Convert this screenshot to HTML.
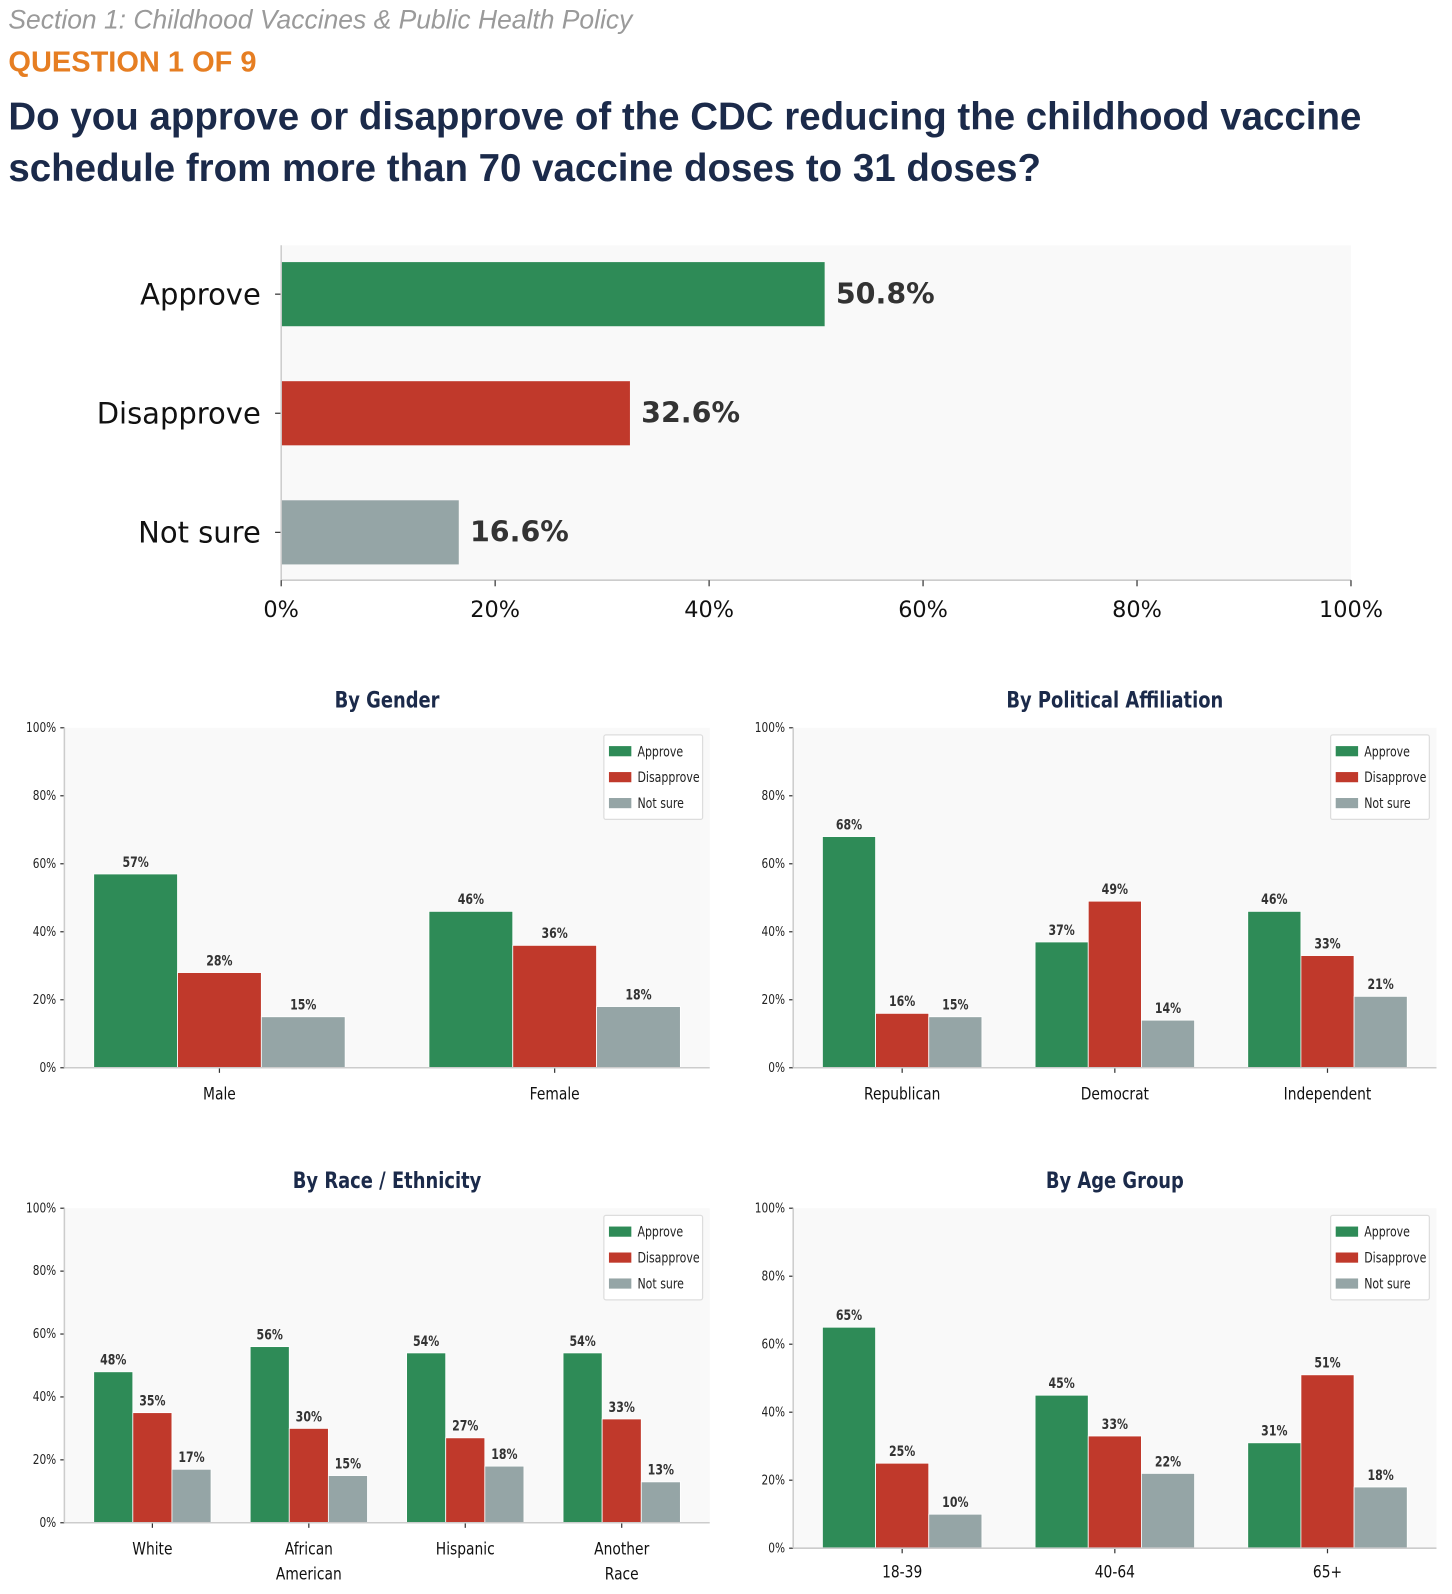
<!DOCTYPE html>
<html><head><meta charset="utf-8"><style>
html,body{margin:0;padding:0;background:#fff;}
svg{display:block;}
</style></head><body>
<svg id="root" width="1452" height="1594" viewBox="0 0 1426 1566" xmlns="http://www.w3.org/2000/svg">
<text x="8" y="28" font-family="Liberation Sans, sans-serif" font-style="italic" font-size="26" fill="#9a9a9a">Section 1: Childhood Vaccines &amp; Public Health Policy</text>
<text x="8" y="70" font-family="Liberation Sans, sans-serif" font-weight="bold" font-size="28.5" fill="#e67e22">QUESTION 1 OF 9</text>
<text x="8" y="127" font-family="Liberation Sans, sans-serif" font-weight="bold" font-size="37.8" fill="#1b2a4a">Do you approve or disapprove of the CDC reducing the childhood vaccine</text>
<text x="8" y="178" font-family="Liberation Sans, sans-serif" font-weight="bold" font-size="37.8" fill="#1b2a4a">schedule from more than 70 vaccine doses to 31 doses?</text>
<g id="main"></g>
<g id="panels"></g>
</svg>
<script>
const NS='http://www.w3.org/2000/svg';
const colors=['#2e8b57','#c0392b','#95a5a6'];
const seriesNames=['Approve','Disapprove','Not sure'];
const mainCategories=['Approve','Disapprove','Not sure'];
const mainValues=[50.8,32.6,16.6];
const mainTicks=[0,20,40,60,80,100];

const genderCats=[['Male'],['Female']];
const genderApprove=[57,46];
const genderDisapprove=[28,36];
const genderNotSure=[15,18];

const politicalCats=[['Republican'],['Democrat'],['Independent']];
const politicalApprove=[68,37,46];
const politicalDisapprove=[16,49,33];
const politicalNotSure=[15,14,21];

const raceCats=[['White'],['African','American'],['Hispanic'],['Another','Race']];
const raceApprove=[48,56,54,54];
const raceDisapprove=[35,30,27,33];
const raceNotSure=[17,15,18,13];

const ageCats=[['18-39'],['40-64'],['65+']];
const ageApprove=[65,45,31];
const ageDisapprove=[25,33,51];
const ageNotSure=[10,22,18];

const panelTicks=[0,20,40,60,80,100];

function mk(tag,attrs,parent,txt){const e=document.createElementNS(NS,tag);for(const k in attrs)e.setAttribute(k,attrs[k]);if(txt!==undefined)e.textContent=txt;parent.appendChild(e);return e;}
function ctext(x,y,anchor,size,weight,fill,parent,txt){
  return mk('text',{x:0,y:0,transform:'translate('+x+' '+y+') scale(0.8 1)','text-anchor':anchor,'font-family':'DejaVu Sans, sans-serif','font-size':size,'font-weight':weight,fill:fill},parent,txt);
}

// main chart
(function(){
  const g=document.getElementById('main');
  const L=276,R=1327,T=241,B=570;
  const x=v=>L+(R-L)*v/100;
  const bg=mk('rect',{x:L,y:T,width:R-L,height:B-T,fill:'#f9f9f9'},g);
  
  
  const band=117, first=289, bh=63;
  mainCategories.forEach((c,i)=>{
    const cy=first+band*i;
    const r=mk('rect',{x:L,y:cy-bh/2,width:x(mainValues[i])-L,height:bh,fill:colors[i]},g);
    
    
    const t=mk('text',{x:x(mainValues[i])+11,y:cy+9,'font-family':'DejaVu Sans, sans-serif','font-weight':'bold','font-size':28,fill:'#333'},g,mainValues[i].toFixed(1)+'%');
    
    
    const l=mk('text',{x:256,y:cy+10,'text-anchor':'end','font-family':'DejaVu Sans, sans-serif','font-size':28.5,fill:'#111'},g,c);
    
    
    mk('line',{x1:L-6,x2:L,y1:cy,y2:cy,stroke:'#333','stroke-width':1.2},g);
  });
  mk('line',{x1:L,x2:L,y1:T,y2:B,stroke:'#ccc','stroke-width':1.5},g);
  mk('line',{x1:L,x2:R,y1:B,y2:B,stroke:'#ccc','stroke-width':1.5},g);
  mainTicks.forEach(v=>{
    mk('line',{x1:x(v),x2:x(v),y1:B,y2:B+6,stroke:'#333','stroke-width':1.2},g);
    const t=mk('text',{x:x(v),y:606,'text-anchor':'middle','font-family':'DejaVu Sans, sans-serif','font-size':22,fill:'#111'},g,v+'%');
    
    
  });
})();

function panel(name,title,cats,series,L,R,T,B,titleY,labelY){
  const root=document.getElementById('panels');
  const g=mk('g',{},root);
  
  
  const n=cats.length;
  const pad=0.375+0.05*(n-1+0.75);
  const sp=(R-L)/(n-1+2*pad);
  const cx=i=>L+sp*(pad+i);
  const y=v=>B-(B-T)*v/100;
  mk('rect',{x:L,y:T,width:R-L,height:B-T,fill:'#f9f9f9'},g);
  const tt=ctext((L+R)/2,titleY,'middle',22,'bold','#1b2a4a',g,title);
  
  
  panelTicks.forEach(v=>{
    mk('line',{x1:L-4,x2:L,y1:y(v),y2:y(v),stroke:'#333','stroke-width':1.2},g);
    const t=ctext(L-8,y(v)+4,'end',13,'normal','#222',g,v+'%');
    
    
  });
  const bw=sp*0.25;
  cats.forEach((c,i)=>{
    series.forEach((s,j)=>{
      const x0=cx(i)+(j-1.5)*bw;
      const r=mk('rect',{x:x0,y:y(s[i]),width:bw,height:B-y(s[i]),fill:colors[j],stroke:'#fff','stroke-width':0.8},g);
      
      
      const t=ctext(x0+bw/2,y(s[i])-7,'middle',13.5,'bold','#333',g,s[i]+'%');
      
      
    });
    mk('line',{x1:cx(i),x2:cx(i),y1:B,y2:B+5,stroke:'#333','stroke-width':1.2},g);
    c.forEach((line,k)=>{
      const t=ctext(cx(i),labelY+k*25,'middle',17,'normal','#111',g,line);
      
      
    });
  });
  mk('line',{x1:L,x2:L,y1:T,y2:B,stroke:'#ccc','stroke-width':1.5},g);
  mk('line',{x1:L,x2:R,y1:B,y2:B,stroke:'#ccc','stroke-width':1.5},g);
  const lx=R-104, ly=T+7;
  const lg=mk('g',{},g);
  
  
  mk('rect',{x:lx,y:ly,width:97,height:83,fill:'#fff',stroke:'#ddd','stroke-width':1.2,rx:2},lg);
  seriesNames.forEach((s,j)=>{
    mk('rect',{x:lx+5,y:ly+11+j*25.5,width:22,height:10,fill:colors[j]},lg);
    const t=mk('text',{x:0,y:0,transform:'translate('+(lx+33)+' '+(ly+21+j*25.5)+') scale(0.8 1)','font-family':'DejaVu Sans, sans-serif','font-size':13.5,fill:'#222'},lg,s);
    
    
  });
}
panel('gender','By Gender',genderCats,[genderApprove,genderDisapprove,genderNotSure],63,697,715,1049,695,1080);
panel('political','By Political Affiliation',politicalCats,[politicalApprove,politicalDisapprove,politicalNotSure],779,1411,715,1049,695,1080);
panel('race','By Race / Ethnicity',raceCats,[raceApprove,raceDisapprove,raceNotSure],63,697,1187,1496,1167,1527);
panel('age','By Age Group',ageCats,[ageApprove,ageDisapprove,ageNotSure],779,1411,1187,1521,1167,1550);
</script>
</body></html>
